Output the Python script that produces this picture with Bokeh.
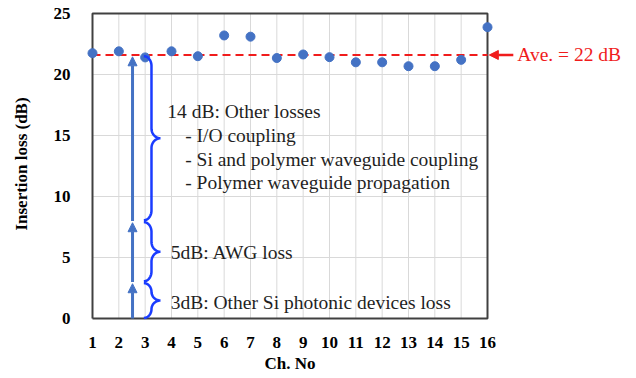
import numpy as np
from bokeh.plotting import figure
from bokeh.models import (Range1d, FixedTicker, Arrow, NormalHead, Label, Title)
from bokeh.embed import file_html
from bokeh.resources import INLINE

# ---- data ----
channels = list(range(1, 17))
insertion_loss = [21.75, 21.9, 21.4, 21.9, 21.5, 23.2, 23.1, 21.35,
                  21.64, 21.42, 21.0, 21.0, 20.68, 20.68, 21.2, 23.88]
average_loss = 21.6
y_ticks = [0, 5, 10, 15, 20, 25]
x_tick_labels = [str(c) for c in channels]
loss_breakdown = [0, 3, 8, 21.6]          # cumulative stack boundaries (dB)
breakdown_labels = ["3dB: Other Si photonic devices loss",
                    "5dB: AWG loss",
                    "14 dB: Other losses"]
other_loss_items = ["- I/O coupling",
                    "- Si and polymer waveguide coupling",
                    "- Polymer waveguide propagation"]

SERIF = "Liberation Serif"
BLUE = "#4472C4"
BRACE = "#1a3cff"
RED = "#f01c1c"
TXT = "#1f1f1f"

x0, x1 = channels[0], channels[-1]
y0r, y1r = y_ticks[0], y_ticks[-1]

# plotting box (x0..x1, y0r..y1r) is 395 x 305 px; the frame is padded around it
W, H = 636, 378
box_w, box_h = 395, 305
px_x = box_w / (x1 - x0)
px_y = box_h / (y1r - y0r)
pad_l, pad_r, pad_t, pad_b = 12, 149, 8, 4
border_l, border_t = 80, 5

p = figure(width=W, height=H, output_backend="svg", toolbar_location=None,
           x_range=Range1d(x0 - pad_l / px_x, x1 + pad_r / px_x),
           y_range=Range1d(y0r - pad_b / px_y, y1r + pad_t / px_y),
           min_border_left=border_l, min_border_right=0,
           min_border_top=border_t,
           min_border_bottom=H - border_t - pad_t - box_h - pad_b)

p.outline_line_color = None
p.background_fill_color = "white"
p.border_fill_color = "white"
p.grid.grid_line_color = None

p.xaxis.ticker = FixedTicker(ticks=channels)
p.xaxis.major_label_overrides = {c: l for c, l in zip(channels, x_tick_labels)}
p.yaxis.ticker = FixedTicker(ticks=y_ticks)
for ax in (p.xaxis, p.yaxis):
    ax.axis_line_color = None
    ax.major_tick_line_color = None
    ax.minor_tick_line_color = None
    ax.major_tick_out = 0
    ax.major_tick_in = 0
    ax.major_label_text_font = SERIF
    ax.major_label_text_font_style = "bold"
    ax.major_label_text_font_size = "17px"
    ax.major_label_text_color = "black"
    ax.axis_label_text_font = SERIF
    ax.axis_label_text_font_style = "bold"
    ax.axis_label_text_font_size = "17px"
    ax.axis_label_text_color = "black"
p.yaxis.axis_label = "Insertion loss (dB)"
p.xaxis.major_label_standoff = 14
p.yaxis.major_label_standoff = 10
p.yaxis.axis_label_standoff = 20

# x-axis title centred under the plotting box (not the padded frame)
label_w = 51
p.add_layout(Title(text="Ch. No", align="left",
                   offset=pad_l + box_w / 2 - label_w / 2,
                   text_font=SERIF, text_font_style="bold", text_font_size="17px",
                   text_color="black", standoff=2), "below")

# grid lines and plot box as line glyphs (from the tick lists)
gx = [[c, c] for c in channels]
gy = [[y0r, y1r] for _ in channels]
gx += [[x0, x1] for _ in y_ticks]
gy += [[t, t] for t in y_ticks]
p.multi_line(gx, gy, line_color="#d9d9d9", line_width=1)
p.line([x0, x1, x1, x0, x0], [y0r, y0r, y1r, y1r, y0r],
       line_color="#404040", line_width=2)

# average line
p.line([x0, x1], [average_loss, average_loss], line_color=RED,
       line_width=2, line_dash="8 5")

# data points
p.scatter(channels, insertion_loss, size=9, color=BLUE)

# stacked arrows
arrow_x = 2.52
for ya, yb in zip(loss_breakdown[:-1], loss_breakdown[1:]):
    p.add_layout(Arrow(x_start=arrow_x, y_start=ya, x_end=arrow_x, y_end=yb - 0.15,
                       line_color=BLUE, line_width=3,
                       end=NormalHead(size=9, fill_color=BLUE, line_color=BLUE)))

# curly braces
def brace(ya, yb, xe=2.95, xs=3.24, xt=3.58, n=16):
    k = 0.5523
    ym = (ya + yb) / 2
    r = min(0.8, (yb - ya) / 4)
    t = np.linspace(0, 1, n)[:, None]

    def bez(P0, P1, P2, P3):
        P0, P1, P2, P3 = map(np.array, (P0, P1, P2, P3))
        return ((1 - t) ** 3) * P0 + 3 * ((1 - t) ** 2) * t * P1 + \
            3 * (1 - t) * t ** 2 * P2 + t ** 3 * P3

    segs = []
    segs.append(bez((xe, ya), (xe + k * (xs - xe), ya), (xs, ya + r - k * r), (xs, ya + r)))
    segs.append(np.array([[xs, ya + r], [xs, ym - r]]))
    segs.append(bez((xs, ym - r), (xs, ym - r + k * r), (xt - k * (xt - xs), ym), (xt, ym)))
    segs.append(bez((xt, ym), (xt - k * (xt - xs), ym), (xs, ym + r - k * r), (xs, ym + r)))
    segs.append(np.array([[xs, ym + r], [xs, yb - r]]))
    segs.append(bez((xs, yb - r), (xs, yb - r + k * r), (xe + k * (xs - xe), yb), (xe, yb)))
    pts = np.vstack(segs)
    return pts[:, 0], pts[:, 1]

for ya, yb in zip(loss_breakdown[:-1], loss_breakdown[1:]):
    bx, by = brace(ya + 0.05, yb - 0.1)
    p.line(bx, by, line_color=BRACE, line_width=2.5)

# breakdown labels
label_y = [1.34, 5.43, 16.97]
for txt, ly, lx in zip(breakdown_labels, label_y, [3.97, 3.97, 3.84]):
    p.add_layout(Label(x=lx, y=ly, text=txt, text_font=SERIF, text_font_size="19.5px",
                       text_color=TXT, text_baseline="middle"))
for i, txt in enumerate(other_loss_items):
    p.add_layout(Label(x=4.52, y=15.0 - i * 1.93, text=txt, text_font=SERIF,
                       text_font_size="19.5px", text_color=TXT,
                       text_baseline="middle"))

# average annotation
p.add_layout(Arrow(x_start=16.98, y_start=average_loss, x_end=16.07, y_end=average_loss,
                   line_color=RED, line_width=2.5,
                   end=NormalHead(size=9, fill_color=RED, line_color=RED)))
p.add_layout(Label(x=17.13, y=average_loss, text="Ave. = 22 dB", text_font=SERIF,
                   text_font_size="19.5px", text_color=RED, text_baseline="middle"))

open("out.html", "w").write(file_html(p, INLINE))
